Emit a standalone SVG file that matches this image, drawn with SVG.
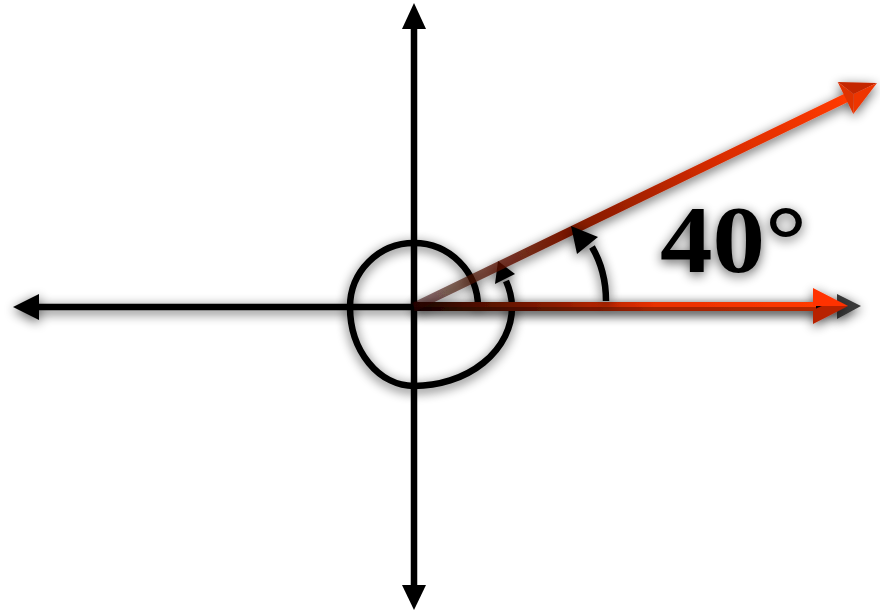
<svg xmlns="http://www.w3.org/2000/svg" width="880" height="611" viewBox="0 0 880 611">
  <defs>
    <filter id="sh" filterUnits="userSpaceOnUse" x="0" y="0" width="880" height="611">
      <feGaussianBlur in="SourceAlpha" stdDeviation="6"/>
      <feOffset dx="0" dy="3"/>
      <feComponentTransfer><feFuncA type="linear" slope="0.65"/></feComponentTransfer>
      <feMerge><feMergeNode/><feMergeNode in="SourceGraphic"/></feMerge>
    </filter>
    <linearGradient id="gx" gradientUnits="userSpaceOnUse" x1="414" y1="0" x2="815" y2="0">
      <stop offset="0" stop-color="#200600"/>
      <stop offset="0.35" stop-color="#8a1c00"/>
      <stop offset="0.6" stop-color="#e83000"/>
      <stop offset="1" stop-color="#ff3a00"/>
    </linearGradient>
    <linearGradient id="gd" gradientUnits="userSpaceOnUse" x1="414" y1="307" x2="846" y2="98">
      <stop offset="0" stop-color="#2a0800" stop-opacity="0.5"/>
      <stop offset="0.35" stop-color="#7a1800"/>
      <stop offset="0.7" stop-color="#d82c00"/>
      <stop offset="1" stop-color="#ff3a00"/>
    </linearGradient>
    <style>
      .ax { stroke: #000; stroke-width: 6.5; fill: none; }
      .hd { fill: #000; }
      .curve { stroke: #000; stroke-width: 6.5; fill: none; }
      .lbl { font-family: "Liberation Serif", "DejaVu Serif", serif; font-weight: bold; font-size: 96px; fill: #000; }
    </style>
  </defs>

  <g id="vertical-axis">
    <line class="ax" x1="414" y1="24" x2="414" y2="590"/>
    <polygon class="hd" points="414,3 402,29 426,29"/>
    <polygon class="hd" points="414,610 402,585 426,585"/>
  </g>

  <g id="horizontal-axis" filter="url(#sh)">
    <line class="ax" x1="36" y1="307" x2="842" y2="307"/>
    <polygon class="hd" points="13,307 39,294 39,320"/>
    <polygon points="861,306 837,294 837,319" fill="#3a3a3a"/>
  </g>

  <g id="spiral" filter="url(#sh)">
    <path class="curve" d="M478,307 A64,64 0 0 0 414,243 A64,64 0 0 0 350,307 A64,79 0 0 0 414,386 A98,79 0 0 0 512,307 A98,79 0 0 0 506,281"/>
    <polygon class="hd" points="498,261 495,284 515,274"/>
  </g>

  <g id="ray-horizontal" filter="url(#sh)">
    <rect x="414" y="302" width="402" height="9" fill="url(#gx)"/>
    <rect x="414" y="307" width="402" height="4" fill="#000" opacity="0.3"/>
    <polygon points="813,288 848,306 822,306 813,306" fill="#ff3300"/>
    <polygon points="813,324 848,306 822,306 813,310" fill="#b82200"/>
  </g>

  <g id="ray-40" filter="url(#sh)">
    <line x1="414" y1="307" x2="848" y2="97" stroke="url(#gd)" stroke-width="9"/>
    <polygon points="877,83 837.7,82 853.6,94" fill="#c42800"/>
    <polygon points="877,83 853.3,114 853.6,94" fill="#ee3400"/>
    <polygon points="837.7,82 853.3,114 853.6,94" fill="#e03000"/>
  </g>

  <g id="angle-arc" filter="url(#sh)">
    <path class="curve" d="M606,301 C606,282 602,264 592,247"/>
    <polygon class="hd" points="571,226 577,254 598,237"/>
  </g>

  <g id="label" filter="url(#sh)">
    <text class="lbl" x="660" y="272" textLength="147" lengthAdjust="spacingAndGlyphs">40°</text>
  </g>
</svg>
